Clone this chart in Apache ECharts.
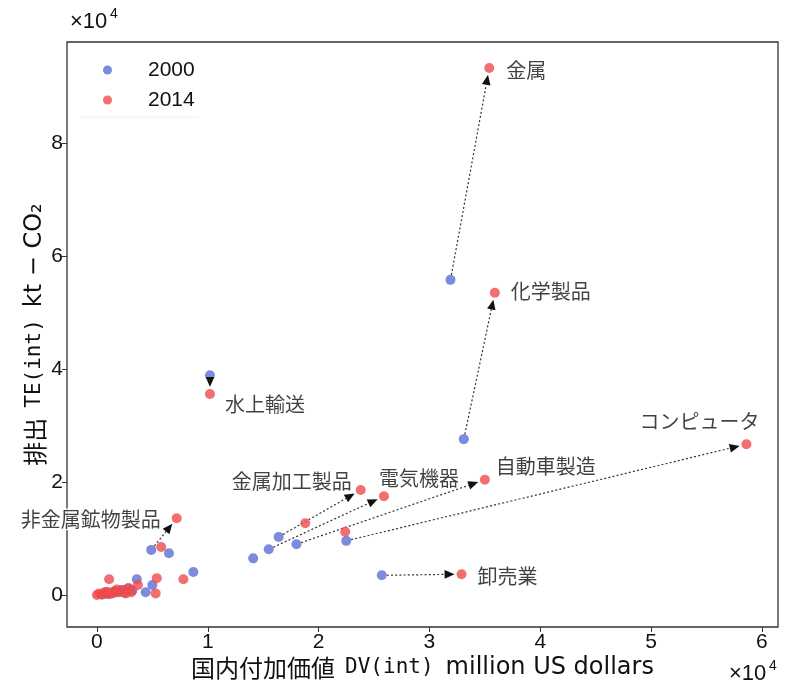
<!DOCTYPE html>
<html>
<head>
<meta charset="utf-8">
<script src="https://cdn.jsdelivr.net/npm/echarts@6/dist/echarts.min.js"></script>
<style>html,body{margin:0;padding:0;background:#fff}#c{width:785px;height:693px}</style>
</head>
<body>
<div id="c"></div>
<script>
// ---- data ----
const years = ['2000', '2014'];
const labeledSectors = ['金属', '化学製品', '水上輸送', 'コンピュータ', '自動車製造', '電気機器', '金属加工製品', '卸売業', '非金属鉱物製品'];
const dv2000Labeled = [31900, 33100, 10200, 22500, 18000, 15500, 16400, 25700, 4900];
const te2000Labeled = [55800, 27600, 38900, 9600, 9000, 8100, 10300, 3500, 8000];
const dv2014Labeled = [35400, 35900, 10200, 58600, 35000, 25900, 23800, 32900, 7200];
const te2014Labeled = [93300, 53500, 35600, 26700, 20400, 17500, 18600, 3700, 13600];
const dv2000Other = [14100, 6500, 8700, 3600, 4400, 5000, 1800, 2800, 1200, 500, 2200, 3200, 900, 1500, 2500];
const te2000Other = [6500, 7400, 4100, 2800, 500, 1800, 500, 1200, 300, 100, 900, 800, 200, 600, 400];
const dv2014Other = [18800, 22400, 5800, 1100, 5400, 7800, 3700, 5300, 0, 200, 700, 1100, 1600, 2000, 2400, 2900, 3100, 400, 1400, 900, 2600, 1800];
const te2014Other = [12700, 11200, 8500, 2800, 3000, 2800, 1800, 300, 0, 300, 500, 200, 700, 500, 900, 1200, 500, 100, 300, 600, 300, 1000];
const xTicks = [0, 10000, 20000, 30000, 40000, 50000, 60000];
const yTicks = [0, 20000, 40000, 60000, 80000];

// ---- styles ----
const BLUE = '#6677d8';
const RED = '#f04a4a';
const FONT = 'Liberation Sans';
const JFONT = 'Noto Sans CJK JP';
const SYM = 10;
// label placement: [dx, dy] from the point centre, text alignment
const labelPlacement = {
  '金属': [17, 2, 'left'],
  '化学製品': [16, -1, 'left'],
  '水上輸送': [15, 10, 'left'],
  'コンピュータ': [-47, -23, 'center'],
  '自動車製造': [11, -13, 'left'],
  '電気機器': [-5, -18, 'left'],
  '金属加工製品': [-9, -9, 'right'],
  '卸売業': [16, 2, 'left'],
  '非金属鉱物製品': [-14, 1, 'right']
};

function zip(a, b) { return a.map((v, i) => [v, b[i]]); }

const data2000 = zip(dv2000Labeled, te2000Labeled).concat(zip(dv2000Other, te2000Other));
const data2014 = labeledSectors.map((n, i) => {
  const p = labelPlacement[n];
  const lab = {show: true, formatter: n, color: '#111', fontSize: 20, fontFamily: JFONT,
    position: [p[0] + SYM / 2, p[1] + SYM / 2], align: p[2], verticalAlign: 'middle'};
  if (n === '非金属鉱物製品') { lab.backgroundColor = '#fff'; lab.padding = [1, 2]; }
  return {name: n, value: [dv2014Labeled[i], te2014Labeled[i]], label: lab};
}).concat(zip(dv2014Other, te2014Other));
const arrowData = labeledSectors.map((n, i) => [dv2000Labeled[i], te2000Labeled[i], dv2014Labeled[i], te2014Labeled[i]]);

function renderArrow(params, api) {
  const p1 = api.coord([api.value(0), api.value(1)]);
  const p2 = api.coord([api.value(2), api.value(3)]);
  const dx = p2[0] - p1[0], dy = p2[1] - p1[1];
  const L = Math.hypot(dx, dy);
  const ux = dx / L, uy = dy / L;
  const nx = -uy, ny = ux;
  const sx = p1[0] + ux * 5, sy = p1[1] + uy * 5;
  const tx = p2[0] - ux * 7, ty = p2[1] - uy * 7;
  const hl = 10, hw = 4.3;
  const bx = tx - ux * hl, by = ty - uy * hl;
  const children = [];
  if (L > 5 + 7 + hl) {
    children.push({type: 'line', shape: {x1: sx, y1: sy, x2: bx, y2: by},
      style: {stroke: '#333', lineWidth: 1.2, lineDash: [2, 2.2]}});
  }
  children.push({type: 'polygon', shape: {points: [[tx, ty], [bx + nx * hw, by + ny * hw], [bx - nx * hw, by - ny * hw]]},
    style: {fill: '#111'}});
  return {type: 'group', children: children};
}

const nameRich = {
  j: {fontFamily: JFONT, fontSize: 24, color: '#111', padding: [0, 10, 0, 0]},
  m: {fontFamily: 'DejaVu Sans Mono', fontSize: 21, color: '#111', padding: [0, 12, 0, 0]},
  p: {fontFamily: 'DejaVu Sans', fontSize: 24, color: '#111'}
};

const chart = echarts.init(document.getElementById('c'), null, {renderer: 'canvas'});
chart.setOption({
  backgroundColor: '#fff',
  animation: false,
  grid: {left: 67, right: 7, top: 42, bottom: 66, show: true, borderColor: '#333', borderWidth: 1.3, backgroundColor: 'transparent'},
  legend: {
    data: years, orient: 'vertical', left: 98, top: 54, icon: 'circle',
    itemWidth: 9, itemHeight: 9, itemGap: 8,
    textStyle: {fontFamily: FONT, fontSize: 21, color: '#111', padding: [0, 0, 0, 31], lineHeight: 22}
  },
  xAxis: {
    type: 'value', min: -2700, max: 61450,
    splitLine: {show: false},
    axisLine: {show: false, onZero: false},
    axisTick: {show: true, customValues: xTicks, length: 5, lineStyle: {color: '#333'}},
    axisLabel: {customValues: xTicks, formatter: v => String(v / 10000), fontFamily: FONT, fontSize: 21, color: '#111', margin: 5},
    name: '{j|国内付加価値}{m|DV(int)}{p|million US dollars}', nameLocation: 'middle', nameGap: 29,
    nameMoveOverlap: false,
    nameTextStyle: {rich: nameRich}
  },
  yAxis: {
    type: 'value', min: -5650, max: 97900,
    splitLine: {show: false},
    axisLine: {show: false, onZero: false},
    axisTick: {show: true, customValues: yTicks, length: 5, lineStyle: {color: '#333'}},
    axisLabel: {customValues: yTicks, formatter: v => String(v / 10000), fontFamily: FONT, fontSize: 21, color: '#111', margin: 4},
    name: '{j|排出}{m|TE(int)}{p|kt − CO₂}', nameLocation: 'middle', nameGap: 20,
    nameMoveOverlap: false,
    nameTextStyle: {rich: nameRich}
  },
  graphic: [
    {type: 'text', left: 70, top: 11, style: {text: '×10', font: 'normal 22px "Liberation Sans"', fill: '#111'}},
    {type: 'text', left: 110, top: 7, style: {text: '4', font: 'normal 14px "Liberation Sans"', fill: '#111'}},
    {type: 'text', left: 729, top: 663, style: {text: '×10', font: 'normal 22px "Liberation Sans"', fill: '#111'}},
    {type: 'text', left: 769, top: 659, style: {text: '4', font: 'normal 14px "Liberation Sans"', fill: '#111'}},
    {type: 'line', shape: {x1: 80, y1: 117, x2: 198, y2: 117}, style: {stroke: '#eeeeee', lineWidth: 1}}
  ],
  series: [
    {name: '2000', type: 'scatter', data: data2000, symbolSize: SYM, itemStyle: {color: BLUE, opacity: 0.85}, z: 2},
    {name: 'arrows', type: 'custom', renderItem: renderArrow, data: arrowData, encode: {x: [0, 2], y: [1, 3]}, z: 3, silent: true},
    {name: '2014', type: 'scatter', data: data2014, symbolSize: SYM, itemStyle: {color: RED, opacity: 0.8}, z: 4}
  ]
});
</script>
</body>
</html>
